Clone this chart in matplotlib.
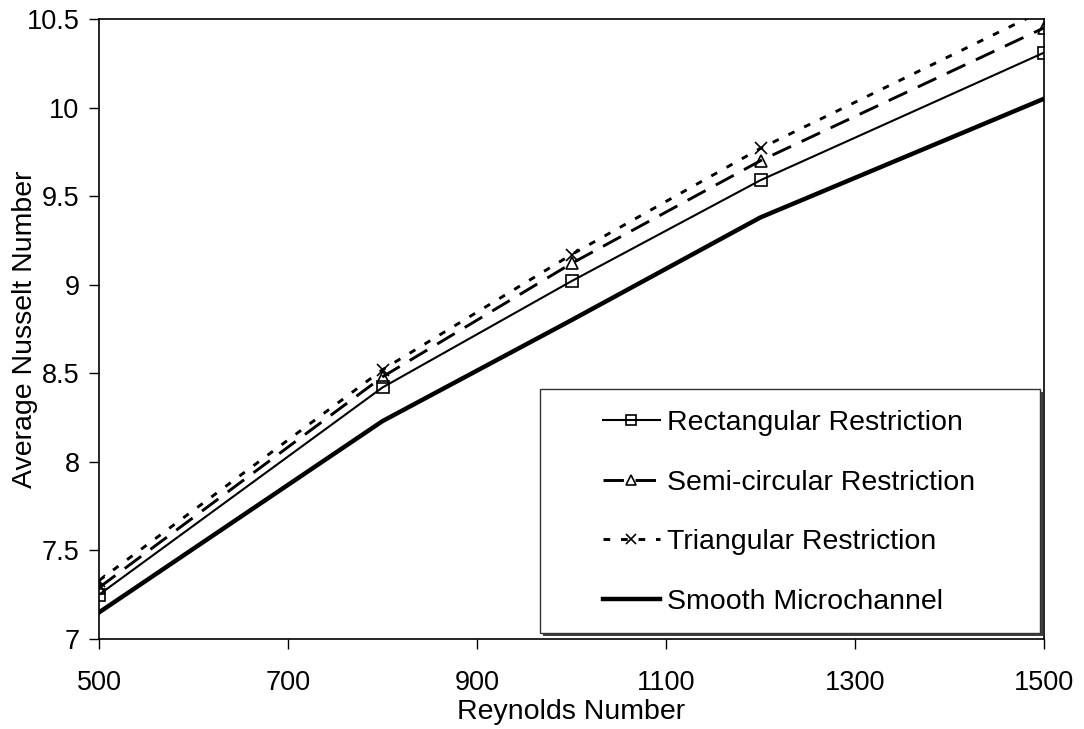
import matplotlib.pyplot as plt
from matplotlib.patches import Rectangle

reynolds = [500, 800, 1000, 1200, 1500]
rectangular = [7.25, 8.42, 9.02, 9.59, 10.31]
semicircular = [7.29, 8.48, 9.12, 9.70, 10.45]
triangular = [7.33, 8.52, 9.17, 9.77, 10.55]
smooth = [7.15, 8.23, 8.80, 9.38, 10.05]

plt.rcParams['font.family'] = ['Liberation Sans', 'DejaVu Sans']
W, H = 1084, 729

fig = plt.figure(figsize=(W / 100, H / 100), dpi=100)
ax = fig.add_axes([99 / W, 1 - 639 / H, (1044 - 99) / W, (639 - 19) / H])

ax.plot(reynolds, rectangular, color="black", lw=1.5, marker="s", ms=9,
        mfc="none", mew=1.2, label="Rectangular Restriction")
ax.plot(reynolds, semicircular, color="black", lw=2.1, dashes=(7, 4), marker="^", ms=9,
        mfc="none", mew=1.2, label="Semi-circular Restriction")
ax.plot(reynolds, triangular, color="black", lw=2.1, dashes=(2.3, 3.7), marker="x", ms=9,
        mew=1.2, label="Triangular Restriction")
ax.plot(reynolds, smooth, color="black", lw=3.2, label="Smooth Microchannel")

ax.set_xlim(500, 1500)
ax.set_ylim(7, 10.5)
ax.set_xticks([500, 700, 900, 1100, 1300, 1500])
ax.set_yticks([7, 7.5, 8, 8.5, 9, 9.5, 10, 10.5])
ax.set_yticklabels(["7", "7.5", "8", "8.5", "9", "9.5", "10", "10.5"])
ax.tick_params(direction="out", length=7, width=1, labelsize=19.5)
ax.tick_params(axis="x", pad=15)
ax.tick_params(axis="y", pad=7)
for s in ax.spines.values():
    s.set_linewidth(1.2)

ax.set_xlabel("Reynolds Number", fontsize=20.5, labelpad=2.5)
ax.set_ylabel("Average Nusselt Number", fontsize=20.5)
ax.yaxis.set_label_coords(-0.0646, 0.5)

# legend box (Excel style, with wide right padding and a dark shadow)
x0, y0, x1, y1 = 540, 389, 1040, 633
ax.add_patch(Rectangle(((x0 + 3) / W, 1 - (y1 + 3) / H), (x1 - x0) / W, (y1 - y0) / H,
                       transform=fig.transFigure, facecolor="#404040",
                       edgecolor="none", zorder=5, clip_on=False))
ax.add_patch(Rectangle((x0 / W, 1 - y1 / H), (x1 - x0) / W, (y1 - y0) / H,
                       transform=fig.transFigure, facecolor="white",
                       edgecolor="#333333", lw=1, zorder=6, clip_on=False))

leg = ax.legend(loc="center left", bbox_to_anchor=(603 / W, 1 - 512.5 / H),
                bbox_transform=fig.transFigure, fontsize=20.5, frameon=False,
                handlelength=2.0, markerscale=0.75, labelspacing=1.18,
                borderpad=0, borderaxespad=0, handletextpad=0.25)
leg.set_zorder(7)

fig.savefig("out.png", dpi=100)
